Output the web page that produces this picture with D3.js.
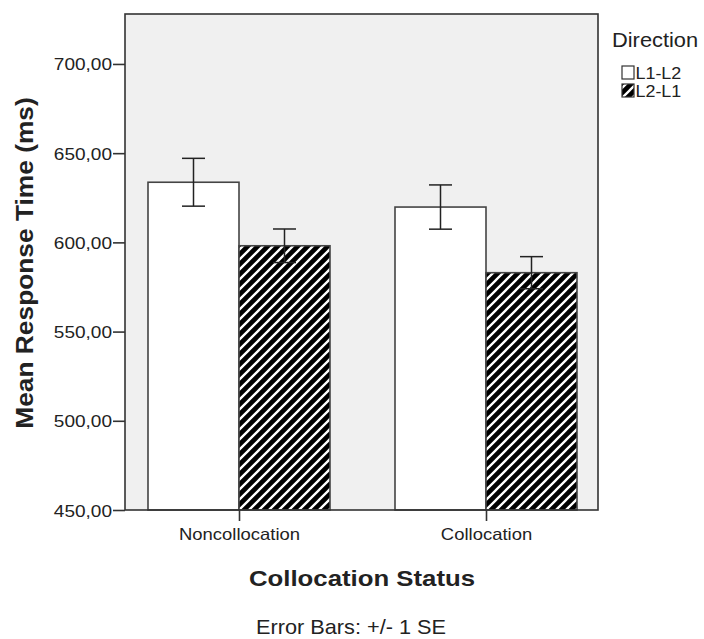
<!DOCTYPE html>
<html>
<head>
<meta charset="utf-8">
<script src="https://cdn.jsdelivr.net/npm/d3@7"></script>
<style>
  html, body { margin: 0; padding: 0; background: #ffffff; }
  svg { display: block; }
  text { font-family: "Liberation Sans", Arial, sans-serif; fill: #222; }
</style>
</head>
<body>
<div id="chart"></div>
<script>
// ---- data ----
const categories = ["Noncollocation", "Collocation"];
const series = ["L1-L2", "L2-L1"];
const meanL1L2 = [633.7, 619.8];
const meanL2L1 = [598.1, 583.0];
const seL1L2 = [13.4, 12.4];
const seL2L1 = [9.4, 9.0];
const yTickValues = [450, 500, 550, 600, 650, 700];
const yTitle = "Mean Response Time (ms)";
const xTitle = "Collocation Status";
const legendTitle = "Direction";
const footnote = "Error Bars:  +/- 1 SE";

// ---- layout ----
const W = 704, H = 639;
const frame = { left: 125, right: 598, top: 14, bottom: 510 };
const SX = 1.12; // horizontal text stretch of the source image

const svg = d3.select("#chart").append("svg").attr("width", W).attr("height", H);

const defs = svg.append("defs");
const pat = defs.append("pattern")
  .attr("id", "hatch").attr("patternUnits", "userSpaceOnUse")
  .attr("width", 10).attr("height", 10);
pat.append("rect").attr("width", 10).attr("height", 10).attr("fill", "#000");
pat.append("path")
  .attr("d", "M-5,5 L5,-5 M0,10 L10,0 M5,15 L15,5")
  .attr("stroke", "#fff").attr("stroke-width", 2.3);

const y = d3.scaleLinear().domain([450, 728]).range([frame.bottom, frame.top]);
const x0 = d3.scalePoint().domain(categories).range([239, 486]);
const x1 = d3.scaleBand().domain(series).range([-91, 91]);

const rows = categories.map((c, i) => ({
  cat: c,
  vals: [
    { s: series[0], m: meanL1L2[i], se: seL1L2[i] },
    { s: series[1], m: meanL2L1[i], se: seL2L1[i] }
  ]
}));

// plot background
svg.append("rect")
  .attr("x", frame.left).attr("y", frame.top)
  .attr("width", frame.right - frame.left).attr("height", frame.bottom - frame.top)
  .attr("fill", "#f0f0f0");

// bars
const groups = svg.selectAll("g.cat").data(rows).join("g")
  .attr("class", "cat")
  .attr("transform", d => `translate(${x0(d.cat)},0)`);

groups.selectAll("rect.bar").data(d => d.vals).join("rect")
  .attr("class", "bar")
  .attr("x", d => x1(d.s))
  .attr("y", d => y(d.m))
  .attr("width", x1.bandwidth())
  .attr("height", d => y(450) - y(d.m))
  .attr("fill", d => d.s === series[0] ? "#ffffff" : "url(#hatch)")
  .attr("stroke", "#444").attr("stroke-width", 1.6);

// error bars
const cap = 11.5;
const eb = groups.selectAll("g.err").data(d => d.vals).join("g")
  .attr("class", "err")
  .attr("transform", d => `translate(${x1(d.s) + x1.bandwidth() / 2},0)`);
eb.append("line")
  .attr("y1", d => y(d.m + d.se)).attr("y2", d => y(d.m - d.se))
  .attr("stroke", "#222").attr("stroke-width", 1.5);
eb.append("line")
  .attr("x1", -cap).attr("x2", cap)
  .attr("y1", d => y(d.m + d.se)).attr("y2", d => y(d.m + d.se))
  .attr("stroke", "#222").attr("stroke-width", 1.5);
eb.append("line")
  .attr("x1", -cap).attr("x2", cap)
  .attr("y1", d => y(d.m - d.se)).attr("y2", d => y(d.m - d.se))
  .attr("stroke", "#222").attr("stroke-width", 1.5);

// frame
svg.append("rect")
  .attr("x", frame.left).attr("y", frame.top)
  .attr("width", frame.right - frame.left).attr("height", frame.bottom - frame.top)
  .attr("fill", "none").attr("stroke", "#333").attr("stroke-width", 1.6);

// helper for stretched text
function sText(parent, x, yPos, str, opts) {
  const g = parent.append("g").attr("transform", `translate(${x},${yPos}) scale(${SX},1)`);
  const t = g.append("text").text(str)
    .attr("font-size", opts.size)
    .attr("text-anchor", opts.anchor || "start")
    .attr("font-weight", opts.weight || "normal");
  return t;
}

// y axis
const yAxis = d3.axisLeft(y).tickValues(yTickValues).tickSize(12)
  .tickFormat(d => d3.format(".2f")(d).replace(".", ","));
const gy = svg.append("g").attr("transform", `translate(${frame.left},0)`).call(yAxis);
gy.select(".domain").remove();
gy.selectAll(".tick line").attr("stroke", "#333").attr("stroke-width", 1.6);
gy.selectAll(".tick text").remove();
gy.selectAll(".tick").each(function (d) {
  sText(d3.select(this), -13, 6, yAxis.tickFormat()(d), { size: 17, anchor: "end" });
});

// x axis
const xAxis = d3.axisBottom(x0).tickSize(11);
const gx = svg.append("g").attr("transform", `translate(0,${frame.bottom})`).call(xAxis);
gx.select(".domain").remove();
gx.selectAll(".tick line").attr("stroke", "#333").attr("stroke-width", 1.6);
gx.selectAll(".tick text").remove();
gx.selectAll(".tick").each(function (d) {
  sText(d3.select(this), 0, 30, d, { size: 16.5, anchor: "middle" });
});

// titles
sText(svg, 362, 586, xTitle, { size: 23, anchor: "middle", weight: "bold" });
svg.append("g").attr("transform", `translate(33,263) rotate(-90) scale(${SX},1)`)
  .append("text").text(yTitle)
  .attr("font-size", 23.5).attr("font-weight", "bold").attr("text-anchor", "middle");
sText(svg, 351, 634, footnote, { size: 19.4, anchor: "middle" });

// legend
sText(svg, 612, 47, legendTitle, { size: 19.5 });
const lg = svg.append("g");
series.forEach((s, i) => {
  const yy = 66 + i * 18;
  lg.append("rect").attr("x", 622).attr("y", yy).attr("width", 12).attr("height", 13)
    .attr("fill", i === 0 ? "#fff" : "url(#hatch)").attr("stroke", "#333").attr("stroke-width", 1.2);
  sText(lg, 635.5, yy + 13, s, { size: 16 });
});
</script>
</body>
</html>
